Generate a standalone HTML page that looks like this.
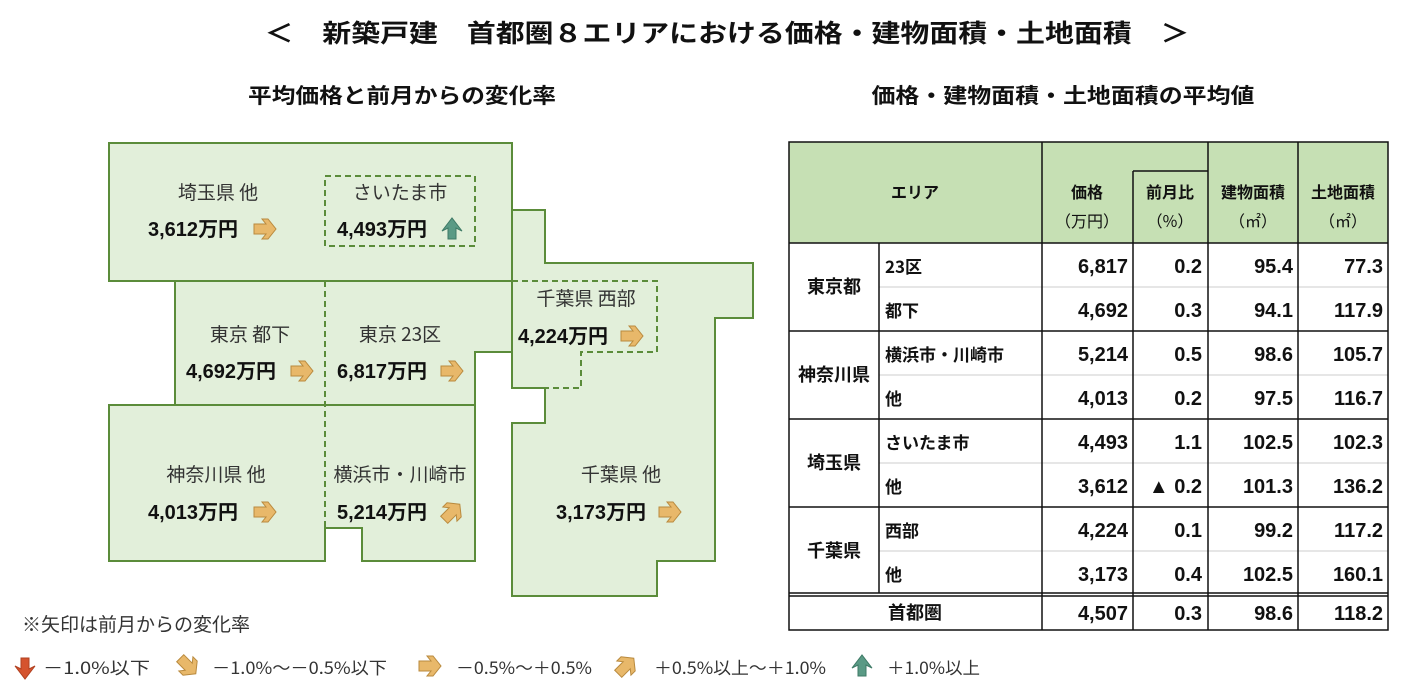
<!DOCTYPE html>
<html><head><meta charset="utf-8"><style>
html,body{margin:0;padding:0;background:#fff;}
svg{display:block;}
text{font-family:"Liberation Sans","Noto Sans CJK JP",sans-serif;}
.j{font-family:"Noto Sans CJK JP",sans-serif;}
</style></head><body>
<svg width="1411" height="699" viewBox="0 0 1411 699" xmlns="http://www.w3.org/2000/svg">
<defs>
<g id="ar"><path d="M-11,-5 L1,-5 L-3,-10 L3,-10 L11,0 L3,10 L-3,10 L1,5 L-11,5 Z" fill="#e8b86a" stroke="#b98a3e" stroke-width="1"/></g>
<g id="au"><path d="M-4,10 L-4,-1 L-10,2 L0,-11 L10,2 L4,-1 L4,10 Z" fill="#5a9a85" stroke="#3e7a66" stroke-width="1"/></g>
<g id="ad"><path d="M-4,-10 L-4,1 L-10,-2 L0,11 L10,-2 L4,1 L4,-10 Z" fill="#d5532e" stroke="#b04020" stroke-width="1"/></g>
<g id="aur"><g transform="rotate(-45)"><path d="M-11,-5 L1,-5 L-3,-10 L3,-10 L11,0 L3,10 L-3,10 L1,5 L-11,5 Z" fill="#e8b86a" stroke="#b98a3e" stroke-width="1"/></g></g>
<g id="adr"><g transform="rotate(45)"><path d="M-11,-5 L1,-5 L-3,-10 L3,-10 L11,0 L3,10 L-3,10 L1,5 L-11,5 Z" fill="#e8b86a" stroke="#b98a3e" stroke-width="1"/></g></g>
</defs>

<text class="j" x="727" y="42" text-anchor="middle" font-size="25" font-weight="bold" fill="#111" textLength="925" lengthAdjust="spacingAndGlyphs">＜　新築戸建　首都圏８エリアにおける価格・建物面積・土地面積　＞</text>
<text class="j" x="402" y="103" text-anchor="middle" font-size="21" font-weight="bold" fill="#111" textLength="308" lengthAdjust="spacingAndGlyphs">平均価格と前月からの変化率</text>
<text class="j" x="1063" y="103" text-anchor="middle" font-size="21" font-weight="bold" fill="#111" textLength="383" lengthAdjust="spacingAndGlyphs">価格・建物面積・土地面積の平均値</text>

<g fill="#e2efda" stroke="#5b8c3a" stroke-width="2">
<rect x="109" y="143" width="403" height="138"/>
<path d="M175,281 L512,281 L512,352 L475,352 L475,405 L175,405 Z"/>
<path d="M109,405 L475,405 L475,561 L362,561 L362,528 L325,528 L325,561 L109,561 Z"/>
<path d="M512,210 L545,210 L545,263 L753,263 L753,318 L715,318 L715,561 L657,561 L657,596 L512,596 L512,423 L545,423 L545,388 L512,388 Z"/>
</g>
<g fill="none" stroke="#5b8c3a" stroke-width="2" stroke-dasharray="6,4">
<rect x="325" y="176" width="150" height="70"/>
<path d="M325,281 L325,528"/>
<path d="M512,281 L657,281 L657,352 L581,352 L581,388 L545,388"/>
</g>
<line x1="512" y1="210" x2="512" y2="388" stroke="#5b8c3a" stroke-width="2"/>

<g class="j" font-size="19" fill="#333" text-anchor="middle">
<text class="j" x="218" y="199">埼玉県 他</text>
<text class="j" x="400" y="199">さいたま市</text>
<text class="j" x="250" y="341">東京 都下</text>
<text class="j" x="400" y="341">東京 23区</text>
<text class="j" x="586" y="305">千葉県 西部</text>
<text class="j" x="216" y="481">神奈川県 他</text>
<text class="j" x="400" y="481">横浜市・川崎市</text>
<text class="j" x="621" y="481">千葉県 他</text>
</g>
<g font-size="20" font-weight="bold" fill="#111">
<text x="148" y="236">3,612<tspan class="j">万円</tspan></text>
<text x="337" y="236">4,493<tspan class="j">万円</tspan></text>
<text x="186" y="378">4,692<tspan class="j">万円</tspan></text>
<text x="337" y="378">6,817<tspan class="j">万円</tspan></text>
<text x="518" y="343">4,224<tspan class="j">万円</tspan></text>
<text x="148" y="519">4,013<tspan class="j">万円</tspan></text>
<text x="337" y="519">5,214<tspan class="j">万円</tspan></text>
<text x="556" y="519">3,173<tspan class="j">万円</tspan></text>
</g>
<use href="#ar" x="265" y="229"/>
<use href="#au" x="452" y="229"/>
<use href="#ar" x="302" y="371"/>
<use href="#ar" x="452" y="371"/>
<use href="#ar" x="632" y="336"/>
<use href="#ar" x="265" y="512"/>
<use href="#aur" x="452" y="512"/>
<use href="#ar" x="670" y="512"/>

<text class="j" x="22" y="631" font-size="19" fill="#333">※矢印は前月からの変化率</text>
<g class="j" font-size="17" fill="#333">
<use href="#ad" x="25" y="668"/><text class="j" x="43" y="674" textLength="107" lengthAdjust="spacingAndGlyphs">－1.0%以下</text>
<use href="#adr" x="188" y="666"/><text class="j" x="212" y="674" textLength="175" lengthAdjust="spacingAndGlyphs">－1.0%～－0.5%以下</text>
<use href="#ar" x="430" y="666"/><text class="j" x="456" y="674" textLength="136" lengthAdjust="spacingAndGlyphs">－0.5%～＋0.5%</text>
<use href="#aur" x="626" y="666"/><text class="j" x="654" y="674" textLength="172" lengthAdjust="spacingAndGlyphs">＋0.5%以上～＋1.0%</text>
<use href="#au" x="862" y="666"/><text class="j" x="887" y="674" textLength="93" lengthAdjust="spacingAndGlyphs">＋1.0%以上</text>
</g>

<rect x="789" y="142" width="599" height="101" fill="#c6e0b4"/>
<g stroke="#ccc" stroke-width="1">
<line x1="879" y1="287" x2="1388" y2="287"/>
<line x1="879" y1="375" x2="1388" y2="375"/>
<line x1="879" y1="463" x2="1388" y2="463"/>
<line x1="879" y1="551" x2="1388" y2="551"/>
</g>
<g stroke="#111" stroke-width="1.5" fill="none">
<rect x="789" y="142" width="599" height="488"/>
<line x1="789" y1="243" x2="1388" y2="243"/>
<line x1="789" y1="331" x2="1388" y2="331"/>
<line x1="789" y1="419" x2="1388" y2="419"/>
<line x1="789" y1="507" x2="1388" y2="507"/>
<line x1="789" y1="593" x2="1388" y2="593"/>
<line x1="789" y1="596" x2="1388" y2="596"/>
<line x1="879" y1="243" x2="879" y2="593"/>
<line x1="1042" y1="142" x2="1042" y2="630"/>
<line x1="1133" y1="171" x2="1133" y2="630"/>
<line x1="1133" y1="171" x2="1208" y2="171"/>
<line x1="1208" y1="142" x2="1208" y2="630"/>
<line x1="1298" y1="142" x2="1298" y2="630"/>
</g>
<g class="j" font-size="16" font-weight="bold" fill="#111" text-anchor="middle">
<text class="j" x="915" y="198">エリア</text>
<text class="j" x="1087" y="198">価格</text>
<text class="j" x="1087" y="227" font-weight="normal">（万円）</text>
<text class="j" x="1170" y="198">前月比</text>
<text class="j" x="1170" y="227" font-weight="normal">（%）</text>
<text class="j" x="1253" y="198">建物面積</text>
<text class="j" x="1253" y="227" font-weight="normal">（㎡）</text>
<text class="j" x="1343" y="198">土地面積</text>
<text class="j" x="1343" y="227" font-weight="normal">（㎡）</text>
<text class="j" x="834" y="293" font-size="18">東京都</text>
<text class="j" x="834" y="381" font-size="18">神奈川県</text>
<text class="j" x="834" y="469" font-size="18">埼玉県</text>
<text class="j" x="834" y="557" font-size="18">千葉県</text>
<text class="j" x="915" y="619" font-size="18">首都圏</text>
</g>
<g class="j" font-size="17" font-weight="bold" fill="#111">
<text class="j" x="885" y="273">23区</text>
<text class="j" x="885" y="317">都下</text>
<text class="j" x="885" y="361">横浜市・川崎市</text>
<text class="j" x="885" y="405">他</text>
<text class="j" x="885" y="449">さいたま市</text>
<text class="j" x="885" y="493">他</text>
<text class="j" x="885" y="537">西部</text>
<text class="j" x="885" y="581">他</text>
</g>
<g font-size="20" font-weight="bold" fill="#111" text-anchor="end">
<text x="1128" y="273">6,817</text><text x="1202" y="273">0.2</text><text x="1293" y="273">95.4</text><text x="1383" y="273">77.3</text>
<text x="1128" y="317">4,692</text><text x="1202" y="317">0.3</text><text x="1293" y="317">94.1</text><text x="1383" y="317">117.9</text>
<text x="1128" y="361">5,214</text><text x="1202" y="361">0.5</text><text x="1293" y="361">98.6</text><text x="1383" y="361">105.7</text>
<text x="1128" y="405">4,013</text><text x="1202" y="405">0.2</text><text x="1293" y="405">97.5</text><text x="1383" y="405">116.7</text>
<text x="1128" y="449">4,493</text><text x="1202" y="449">1.1</text><text x="1293" y="449">102.5</text><text x="1383" y="449">102.3</text>
<text x="1128" y="493">3,612</text><text x="1202" y="493">▲ 0.2</text><text x="1293" y="493">101.3</text><text x="1383" y="493">136.2</text>
<text x="1128" y="537">4,224</text><text x="1202" y="537">0.1</text><text x="1293" y="537">99.2</text><text x="1383" y="537">117.2</text>
<text x="1128" y="581">3,173</text><text x="1202" y="581">0.4</text><text x="1293" y="581">102.5</text><text x="1383" y="581">160.1</text>
<text x="1128" y="620">4,507</text><text x="1202" y="620">0.3</text><text x="1293" y="620">98.6</text><text x="1383" y="620">118.2</text>
</g>
</svg>
</body></html>
